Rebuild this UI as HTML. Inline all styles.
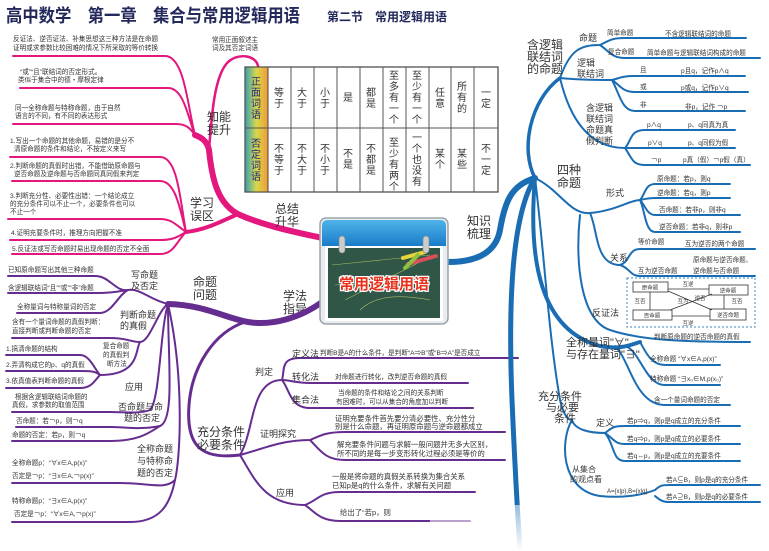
<!DOCTYPE html>
<html><head><meta charset="utf-8"><style>
html,body{margin:0;padding:0;background:#fff}
svg{display:block}
text{font-family:"Liberation Sans","Noto Sans CJK SC",sans-serif;fill:#333}
.s{font-size:6.6px}
.m{font-size:9px}
.b{font-size:12px}
.t{font-size:10px;fill:#222}
</style></head><body>
<svg width="769" height="551" viewBox="0 0 769 551" xmlns="http://www.w3.org/2000/svg">
<defs>
<linearGradient id="hg" x1="0" y1="0" x2="1" y2="0"><stop offset="0" stop-color="#3a9fb0"/><stop offset="0.5" stop-color="#d8d84a"/><stop offset="1" stop-color="#f09a3a"/></linearGradient>
<linearGradient id="cal" x1="0" y1="0" x2="0" y2="1"><stop offset="0" stop-color="#4fb3ea"/><stop offset="1" stop-color="#1a7cc8"/></linearGradient>
<linearGradient id="fade" x1="0" y1="0" x2="0" y2="1"><stop offset="0" stop-color="#fff" stop-opacity="0"/><stop offset="1" stop-color="#fff"/></linearGradient>
</defs>
<rect width="769" height="551" fill="#fff"/>
<!-- title -->
<text x="6" y="22" textLength="294" lengthAdjust="spacingAndGlyphs" style="font-size:18px;font-weight:bold;fill:#23295a">高中数学　第一章　集合与常用逻辑用语</text>
<text x="327" y="21" style="font-size:12px;font-weight:bold;fill:#23295a">第二节　常用逻辑用语</text>

<!-- ===== PINK ===== -->
<g fill="none" stroke="#e3177d" stroke-linecap="round">
<path d="M322,238 C295,232 265,226 240,215 C218,205 212,180 209,150 C207,140 200,137 195,135" stroke-width="6"/>
<path d="M238,214 C220,222 205,230 186,232" stroke-width="4"/>
<path d="M209,150 C212,110 215,75 228,62 C240,52 256,56 258,66" stroke-width="2.5"/>
<g stroke-width="2">
<path d="M195,135 C188,110 185,56 165,56 L13,56"/>
<path d="M195,135 C188,118 184,88 168,88 L20,88"/>
<path d="M195,135 C190,128 186,124 176,124 L13,124"/>
<path d="M186,232 C180,200 178,157 160,157 L10,157"/>
<path d="M186,232 C180,210 176,181 160,181 L12,181"/>
<path d="M186,232 C176,225 172,219 160,219 L8,219"/>
<path d="M186,232 C176,238 172,240 160,240 L10,240"/>
<path d="M186,232 C176,242 174,254 160,254 L12,254"/>
</g></g>
<g class="s">
<text x="13" y="41">反证法、逆否证法、补集思想这三种方法是在命题</text>
<text x="13" y="50">证明或求参数比较困难的情况下所采取的等价转换</text>
<text x="20" y="74">“或”“且”联结词的否定形式。</text>
<text x="18" y="82">类似于集合中的德・摩根定律</text>
<text x="15" y="110">同一全称命题与特称命题，由于自然</text>
<text x="15" y="118">语言的不同，有不同的表达形式</text>
<text x="10" y="143">1.写出一个命题的其他命题，易错的是分不</text>
<text x="14" y="151">清原命题的条件和结论，不按定义来写</text>
<text x="10" y="168">2.判断命题的真假时出错，不能借助原命题与</text>
<text x="14" y="176">逆否命题及逆命题与否命题同真同假来判定</text>
<text x="10" y="198">3.判断充分性、必要性出错：一个结论成立</text>
<text x="10" y="206">的充分条件可以不止一个，必要条件也可以</text>
<text x="10" y="214">不止一个</text>
<text x="11" y="235">4.证明充要条件时，推理方向把握不准</text>
<text x="12" y="251">5.反证法或写否命题时易出现命题的否定不全面</text>
<text x="212" y="42">常用正面叙述主</text>
<text x="212" y="50">词及其否定词语</text>
</g>
<g class="b"><text x="207" y="121">知能</text><text x="207" y="134">提升</text>
<text x="190" y="207">学习</text><text x="190" y="220">误区</text>
<text x="275" y="213">总结</text><text x="275" y="226">升华</text>
<text x="467" y="225">知识</text><text x="467" y="238">梳理</text>
<text x="283" y="300">学法</text><text x="283" y="313">指导</text>
<text x="193" y="286">命题</text><text x="193" y="299">问题</text></g>

<!-- ===== TABLE ===== -->
<rect x="245" y="67" width="253" height="125" fill="#fff" stroke="#444" stroke-width="1.2"/>
<rect x="245" y="67" width="23" height="125" fill="url(#hg)" stroke="#444" stroke-width="1"/>
<g stroke="#555" stroke-width="1"><line x1="245" y1="128" x2="498" y2="128"/>
<line x1="291" y1="67" x2="291" y2="192"/><line x1="314" y1="67" x2="314" y2="192"/><line x1="337" y1="67" x2="337" y2="192"/><line x1="360" y1="67" x2="360" y2="192"/><line x1="383" y1="67" x2="383" y2="192"/><line x1="406" y1="67" x2="406" y2="192"/><line x1="429" y1="67" x2="429" y2="192"/><line x1="451" y1="67" x2="451" y2="192"/><line x1="474" y1="67" x2="474" y2="192"/></g>
<g class="t" text-anchor="middle">
<text x="256" y="85" style="fill:#1f2a7a">正</text><text x="256" y="96" style="fill:#1f2a7a">面</text><text x="256" y="107" style="fill:#1f2a7a">词</text><text x="256" y="118" style="fill:#1f2a7a">语</text>
<text x="256" y="147" style="fill:#1f2a7a">否</text><text x="256" y="158" style="fill:#1f2a7a">定</text><text x="256" y="169" style="fill:#1f2a7a">词</text><text x="256" y="180" style="fill:#1f2a7a">语</text>
<text x="279" y="96">等</text><text x="279" y="107">于</text>
<text x="302" y="96">大</text><text x="302" y="107">于</text>
<text x="325" y="96">小</text><text x="325" y="107">于</text>
<text x="348" y="101">是</text>
<text x="371" y="96">都</text><text x="371" y="107">是</text>
<text x="394" y="79">至</text><text x="394" y="90">多</text><text x="394" y="101">有</text><text x="394" y="112">一</text><text x="394" y="123">个</text>
<text x="417" y="79">至</text><text x="417" y="90">少</text><text x="417" y="101">有</text><text x="417" y="112">一</text><text x="417" y="123">个</text>
<text x="440" y="96">任</text><text x="440" y="107">意</text>
<text x="462" y="90">所</text><text x="462" y="101">有</text><text x="462" y="112">的</text>
<text x="486" y="96">一</text><text x="486" y="107">定</text>
<text x="279" y="152">不</text><text x="279" y="163">等</text><text x="279" y="174">于</text>
<text x="302" y="152">不</text><text x="302" y="163">大</text><text x="302" y="174">于</text>
<text x="325" y="152">不</text><text x="325" y="163">小</text><text x="325" y="174">于</text>
<text x="348" y="157">不</text><text x="348" y="168">是</text>
<text x="371" y="152">不</text><text x="371" y="163">都</text><text x="371" y="174">是</text>
<text x="394" y="146">至</text><text x="394" y="157">少</text><text x="394" y="168">有</text><text x="394" y="179">两</text><text x="394" y="190">个</text>
<text x="417" y="141">一</text><text x="417" y="152">个</text><text x="417" y="163">也</text><text x="417" y="174">没</text><text x="417" y="185">有</text>
<text x="440" y="157">某</text><text x="440" y="168">个</text>
<text x="462" y="157">某</text><text x="462" y="168">些</text>
<text x="486" y="152">不</text><text x="486" y="163">一</text><text x="486" y="174">定</text>
</g>

<!-- ===== PURPLE ===== -->
<g fill="none" stroke="#662d91" stroke-linecap="round">
<path d="M322,302 C300,318 272,326 248,322 C225,318 205,305 168,304" stroke-width="6"/>
<path d="M245,322 C215,332 192,365 189,405 C186,445 200,460 240,455" stroke-width="3"/>
<g stroke-width="2">
<path d="M168,304 C150,300 140,288 128,290 C115,292 110,276 95,276 L8,276"/>
<path d="M128,290 C115,292 110,293 95,293 L8,293"/>
<path d="M128,290 C118,295 112,313 100,313 L17,313"/>
<path d="M168,304 C158,310 150,342 140,342 C130,342 128,338 110,338 L12,338"/>
<path d="M140,342 C135,350 140,375 100,375 C95,370 90,355 80,355 L6,355"/>
<path d="M100,375 C95,371 90,371 80,371 L6,371"/>
<path d="M100,375 C95,380 92,388 80,388 L6,388"/>
<path d="M168,304 C160,330 160,400 150,410 C140,414 125,412 110,412 L12,412"/>
<path d="M168,304 C168,360 175,420 160,426 C140,430 125,427 110,427 L16,427"/>
<path d="M160,426 C150,432 140,441 110,441 L12,441"/>
<path d="M168,304 C185,380 180,460 175,480 C165,490 150,483 120,483 L12,483"/>
<path d="M175,480 C170,505 160,522 130,522 L12,522"/>
<path d="M240,455 C255,430 250,380 282,380 C285,370 280,358 300,358 L518,358"/>
<path d="M282,380 C290,380 295,383 310,383 L468,383"/>
<path d="M282,380 C290,390 290,408 310,408 L473,408"/>
<path d="M240,455 C260,450 280,440 310,440 C320,436 325,432 345,432 L505,432"/>
<path d="M310,440 C320,450 325,460 345,460 L505,460"/>
<path d="M240,455 C255,480 265,505 305,505 C318,500 320,492 340,492 L475,492"/>
<path d="M305,505 C315,512 320,521 340,521 L470,521"/>
</g></g>
<g class="m">
<text x="131" y="278">写命题</text><text x="131" y="289">及否定</text>
<text x="120" y="318">判断命题</text><text x="120" y="329">的真假</text>
<text x="125" y="390">应用</text>
<text x="118" y="410">否命题与命</text><text x="124" y="421">题的否定</text>
<text x="137" y="452">全称命题</text><text x="137" y="464">与特称命</text><text x="137" y="476">题的否定</text>
<text x="255" y="375">判定</text><text x="260" y="437">证明探究</text><text x="276" y="496">应用</text>
<text x="292" y="357">定义法</text><text x="292" y="380">转化法</text><text x="292" y="403">集合法</text>
</g>
<g style="font-size:12px"><text x="197" y="436">充分条件</text><text x="197" y="449">必要条件</text></g>
<g class="s">
<text x="8" y="272">已知原命题写出其他三种命题</text>
<text x="8" y="290">含逻辑联结词“且”“或”“非”命题</text>
<text x="17" y="309">全称量词与特称量词的否定</text>
<text x="12" y="324">含有一个量词命题的真假判断：</text>
<text x="12" y="333">直接判断或判断命题的否定</text>
<text x="103" y="348">复合命题</text><text x="103" y="357">的真假判</text><text x="107" y="366">断方法</text>
<text x="6" y="351">1.搞清命题的结构</text>
<text x="6" y="367">2.弄清构成它的p、q的真假</text>
<text x="6" y="383">3.依真值表判断命题的真假</text>
<text x="15" y="399">根据含逻辑联结词命题的</text>
<text x="12" y="407">真假，求参数的取值范围</text>
<text x="16" y="423">否命题：若￢p，则￢q</text>
<text x="12" y="437">命题的否定：若p，则￢q</text>
<text x="12" y="465">全称命题p：“∀x∈A,p(x)”</text>
<text x="12" y="478">否定是￢p：“∃x∈A,￢p(x)”</text>
<text x="12" y="503">特称命题p：“∃x∈A,p(x)”</text>
<text x="14" y="516">否定是￢p：“∀x∈A,￢p(x)”</text>
<text x="320" y="355">判断B是A的什么条件，是判断“A⇒B”或“B⇒A”是否成立</text>
<text x="335" y="379">对命题进行转化，改判逆否命题的真假</text>
<text x="338" y="395">当命题的条件和结论之间的关系判断</text>
<text x="336" y="404">有困难时，可以从集合的角度加以判断</text>
<text x="335" y="421" style="font-size:7.4px">证明充要条件首先要分清必要性、充分性分</text>
<text x="335" y="429" style="font-size:7.4px">别是什么命题，再证明原命题与逆命题都成立</text>
<text x="337" y="447" style="font-size:7.4px">解充要条件问题与求解一般问题并无多大区别，</text>
<text x="337" y="456" style="font-size:7.4px">所不同的是每一步变形转化过程必须是等价的</text>
<text x="332" y="479" style="font-size:7.4px">一般是将命题的真假关系转换为集合关系</text>
<text x="332" y="488" style="font-size:7.4px">已知p是q的什么条件，求解有关问题</text>
<text x="340" y="515" style="font-size:7.4px">给出了“若p，则</text>
</g>

<!-- ===== BLUE ===== -->
<g fill="none" stroke="#1b6db3" stroke-linecap="round">
<path d="M448,262 C478,262 496,252 500,230 C505,200 512,185 535,178" stroke-width="6"/>
<path d="M535,178 C520,150 530,100 560,78" stroke-width="3.5"/>
<path d="M535,178 C512,215 508,300 512,400 C515,470 518,520 520,551" stroke-width="5"/>
<path d="M535,178 C528,260 540,330 600,346 C620,350 630,345 640,342" stroke-width="4"/>
<path d="M535,178 C545,260 548,330 560,400 C565,420 570,420 572,420" stroke-width="2"/>
<g stroke-width="2">
<path d="M560,78 C570,50 580,45 600,45 C610,40 612,38 625,38 L746,38"/>
<path d="M600,45 C610,52 612,58 625,58 L760,58"/>
<path d="M560,78 C580,80 600,80 612,80 C620,78 622,76 635,76 L745,76"/>
<path d="M612,80 C620,85 622,92 635,92 L748,92"/>
<path d="M612,80 C620,95 622,111 635,111 L745,111"/>
<path d="M560,78 C570,120 590,148 625,148 C632,140 630,130 645,130 L735,130"/>
<path d="M625,148 L735,148"/>
<path d="M625,148 C632,158 632,165 645,165 L750,165"/>
<path d="M535,178 C560,190 570,215 590,213 C615,211 630,200 640,200 C645,195 645,184 655,184 L730,184"/>
<path d="M640,200 C645,199 648,198 655,198 L730,198"/>
<path d="M640,200 C645,205 647,215 655,215 L740,215"/>
<path d="M640,200 C645,210 645,232 655,232 L740,232"/>
<path d="M590,213 C598,230 595,265 620,265 C630,262 628,249 640,249 L755,249"/>
<path d="M620,265 C630,268 630,276 640,276 L755,276"/>
<path d="M580,215 C575,260 580,320 610,330 C640,340 680,342 750,342"/>
<path d="M640,342 C645,350 650,365 665,365 L720,365"/>
<path d="M625,346 C640,350 645,385 665,385 L720,385"/>
<path d="M615,346 C630,360 635,405 665,405 L730,405"/>
<path d="M572,420 C575,430 590,433 605,433 C612,428 612,426 625,426 L740,426"/>
<path d="M605,433 C615,440 615,444 625,444 L740,444"/>
<path d="M605,433 C615,445 612,461 625,461 L740,461"/>
<path d="M572,420 C560,440 560,490 600,496 C620,498 640,496 655,490 C660,486 660,485 670,485 L760,485"/>
<path d="M655,496 C660,500 662,502 670,502 L760,502"/>
</g></g>
<g class="b"><text x="527" y="49">含逻辑</text><text x="527" y="61">联结词</text><text x="527" y="73">的命题</text>
<text x="557" y="174">四种</text><text x="557" y="187">命题</text></g>
<g style="font-size:11px"><text x="566" y="346">全称量词"∀"</text><text x="566" y="358">与存在量词"∃"</text>
<text x="538" y="400">充分条件</text><text x="546" y="411">与必要</text><text x="554" y="422">条件</text></g>
<g class="m">
<text x="579" y="41">命题</text>
<text x="577" y="66">逻辑</text><text x="577" y="77">联结词</text>
<text x="586" y="111">含逻辑</text><text x="586" y="122">联结词</text><text x="586" y="133">命题真</text><text x="586" y="144">假判断</text>
<text x="606" y="196">形式</text><text x="610" y="261">关系</text><text x="592" y="316">反证法</text>
<text x="596" y="426">定义</text>
<text x="572" y="472" style="font-size:8px">从集合</text><text x="570" y="482" style="font-size:8px">的观点看</text>
</g>
<g class="s">
<text x="607" y="35">简单命题</text><text x="665" y="36">不含逻辑联结词的命题</text>
<text x="608" y="54">复合命题</text><text x="647" y="55">简单命题与逻辑联结词构成的命题</text>
<text x="640" y="72">且</text><text x="681" y="73">p且q，记作p∧q</text>
<text x="640" y="89">或</text><text x="681" y="90">p或q，记作p∨q</text>
<text x="640" y="107">非</text><text x="685" y="109">非p，记作 ￢p</text>
<text x="647" y="127">p∧q</text><text x="688" y="127">p、q同真为真</text>
<text x="648" y="145">p∨q</text><text x="688" y="145">p、q同假为假</text>
<text x="651" y="162">￢p</text><text x="683" y="162">p真（假）￢p假（真）</text>
<text x="657" y="181">原命题：若p，则q</text>
<text x="657" y="195">逆命题：若q，则p</text>
<text x="659" y="212">否命题：若非p，则非q</text>
<text x="659" y="229">逆否命题：若非q，则非p</text>
<text x="638" y="244">等价命题</text><text x="685" y="246">互为逆否的两个命题</text>
<text x="638" y="273">互为逆否命题</text><text x="693" y="262">原命题与逆否命题、</text><text x="693" y="273">逆命题与否命题</text>
<text x="654" y="339">判断原命题的逆否命题的真假</text>
<text x="650" y="361">全称命题 “∀x∈A,p(x)”</text>
<text x="650" y="381">特称命题 “∃x₀∈M,p(x₀)”</text>
<text x="654" y="402">含一个量词命题的否定</text>
<text x="627" y="423">若p⇒q，则p是q成立的充分条件</text>
<text x="627" y="441">若q⇒p，则p是q成立的必要条件</text>
<text x="627" y="458">若q⇔p，则p是q成立的充要条件</text>
<text x="607" y="493" style="font-size:6px">A={x|p},B={x|q}</text>
<text x="666" y="482">若A⊆B，则p是q的充分条件</text>
<text x="666" y="499">若A⊇B，则p是q的必要条件</text>
</g>
<!-- dashed box -->
<rect x="627" y="278" width="128" height="49" fill="none" stroke="#3a85c8" stroke-width="1" stroke-dasharray="2,2"/>
<g fill="#fff" stroke="#333" stroke-width="0.8">
<rect x="633" y="282" width="35" height="10"/><rect x="709" y="285" width="39" height="10"/>
<rect x="633" y="310" width="39" height="10"/><rect x="710" y="309" width="36" height="11"/></g>
<g stroke="#333" stroke-width="0.8"><line x1="668" y1="289" x2="709" y2="289"/><line x1="672" y1="316" x2="710" y2="316"/><line x1="650" y1="292" x2="650" y2="310"/><line x1="724" y1="295" x2="724" y2="309"/><line x1="668" y1="291" x2="712" y2="310"/><line x1="670" y1="310" x2="712" y2="294"/></g>
<g style="font-size:5.5px" text-anchor="middle"><text x="650" y="289.5">原命题</text><text x="728" y="292.5">逆命题</text><text x="652" y="317.5">否命题</text><text x="728" y="317">逆否命题</text>
<text x="688" y="286">互逆</text><text x="688" y="325">互逆</text><text x="640" y="303">互否</text><text x="737" y="303">互否</text><text x="683" y="303">互为</text><text x="700" y="300">逆否</text></g>

<!-- fades at bottom -->
<rect x="430" y="505" width="140" height="46" fill="#fff" opacity="0.55"/>
<rect x="500" y="505" width="269" height="46" fill="url(#fade)"/>

<!-- ===== CALENDAR ===== -->
<rect x="320" y="218" width="128" height="106" rx="6" fill="#e8ecef" stroke="#9aa3ab" stroke-width="1.5"/>
<path d="M322,226 Q322,220 328,220 L440,220 Q446,220 446,226 L446,246 L322,246 Z" fill="url(#cal)"/>
<rect x="325" y="246" width="118" height="75" fill="#fff"/>
<rect x="328" y="248" width="112" height="70" fill="#2f5646"/>
<g stroke="#c8d470" stroke-width="0.6" fill="none" opacity="0.8"><path d="M332,265 L430,255"/><path d="M345,300 L420,262"/><path d="M360,310 Q380,290 430,300"/><path d="M335,285 L400,282"/></g>
<g stroke-linecap="round" stroke-width="4"><line x1="403" y1="258" x2="425" y2="252" stroke="#e7d33a"/><line x1="408" y1="264" x2="436" y2="256" stroke="#d8505a"/><line x1="405" y1="268" x2="418" y2="255" stroke="#8fc040"/></g>
<rect x="339" y="236" width="6" height="17" rx="3" fill="#ccc" stroke="#888" stroke-width="0.6"/>
<rect x="423" y="236" width="6" height="17" rx="3" fill="#ccc" stroke="#888" stroke-width="0.6"/>
<text x="384" y="289" text-anchor="middle" style="font-size:15px;font-weight:bold;fill:#e8321e;stroke:#fff;stroke-width:2.5px;paint-order:stroke">常用逻辑用语</text>
</svg>
</body></html>
